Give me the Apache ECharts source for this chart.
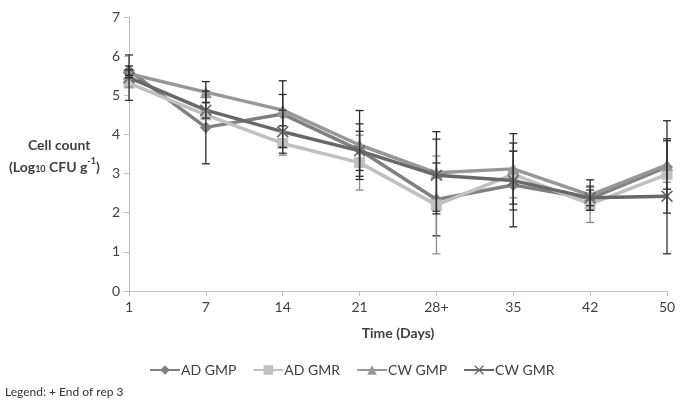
<!DOCTYPE html>
<html>
<head>
<meta charset="utf-8">
<script src="https://cdn.jsdelivr.net/npm/echarts@6/dist/echarts.min.js"></script>
<style>
html,body{margin:0;padding:0;background:#fff;}
#chart{width:686px;height:407px;}
</style>
</head>
<body>
<div id="chart"></div>
<script>
const categories = ['1', '7', '14', '21', '28+', '35', '42', '50'];
const yTicks = [0, 1, 2, 3, 4, 5, 6, 7];

const adGmp = [5.63, 4.18, 4.52, 3.60, 2.34, 2.71, 2.36, 3.17];
const adGmr = [5.31, 4.50, 3.77, 3.28, 2.20, 2.98, 2.22, 2.98];
const cwGmp = [5.55, 5.08, 4.62, 3.73, 3.02, 3.12, 2.45, 3.22];
const cwGmr = [5.45, 4.62, 4.07, 3.58, 2.96, 2.82, 2.38, 2.42];

const adGmpErr = [0.12, 0.93, 0.85, 0.67, 0.93, 1.07, 0.30, 1.18];
const adGmrErr = [0.10, 0.10, 0.30, 0.70, 1.25, 0.60, 0.47, 0.20];
const cwGmpErr = [0.10, 0.27, 0.40, 0.88, 1.05, 0.90, 0.39, 0.62];
const cwGmrErr = [0.58, 0.20, 0.55, 0.50, 0.92, 0.75, 0.20, 1.47];

const seriesNames = ['AD GMP', 'AD GMR', 'CW GMP', 'CW GMR'];
const seriesColors = ['#808080', '#c0c0c0', '#979797', '#686868'];
const errColors = ['#2a2a2a', '#8a8a8a', '#2a2a2a', '#333333'];
const xPath = 'path://M0,1L1,0L5,4L9,0L10,1L6,5L10,9L9,10L5,6L1,10L0,9L4,5Z';
const symbols = ['diamond', 'rect', 'triangle', xPath];
const symbolSizes = [12, 11, 12, 12];
const values = [adGmp, adGmr, cwGmp, cwGmr];
const errs = [adGmpErr, adGmrErr, cwGmpErr, cwGmrErr];

const font = 'Lato, "Open Sans", sans-serif';

const lineSeries = seriesNames.map((n, i) => ({
  name: n,
  type: 'line',
  data: values[i],
  symbol: symbols[i],
  symbolSize: symbolSizes[i],
  showAllSymbol: true,
  lineStyle: {color: seriesColors[i], width: 3.5},
  itemStyle: {color: seriesColors[i], borderWidth: 0},
  z: 2 + i
}));

const errSeries = seriesNames.map((n, i) => ({
  type: 'custom',
  name: n + ' err',
  z: 10,
  silent: true,
  data: values[i].map((v, k) => [k, v - errs[i][k], v + errs[i][k]]),
  renderItem: function (params, api) {
    const lo = api.coord([api.value(0), api.value(1)]);
    const hi = api.coord([api.value(0), api.value(2)]);
    const w = 4;
    const st = {stroke: errColors[i], lineWidth: 1.3};
    return {
      type: 'group',
      children: [
        {type: 'line', shape: {x1: lo[0], y1: lo[1], x2: hi[0], y2: hi[1]}, style: st},
        {type: 'line', shape: {x1: lo[0] - w, y1: lo[1], x2: lo[0] + w, y2: lo[1]}, style: st},
        {type: 'line', shape: {x1: hi[0] - w, y1: hi[1], x2: hi[0] + w, y2: hi[1]}, style: st}
      ]
    };
  }
}));

const chart = echarts.init(document.getElementById('chart'), null, {renderer: 'canvas'});
chart.setOption({
  backgroundColor: '#fff',
  animation: false,
  grid: {left: 129, right: 19, top: 17, bottom: 116},
  xAxis: {
    type: 'category',
    data: categories,
    boundaryGap: false,
    name: 'Time (Days)',
    nameLocation: 'middle',
    nameGap: 35,
    nameTextStyle: {fontFamily: font, fontSize: 14, fontWeight: 'bold', color: '#404040'},
    axisLine: {lineStyle: {color: '#bfbfbf', width: 1}},
    axisTick: {show: true, alignWithLabel: true, length: 5, inside: false, lineStyle: {color: '#bfbfbf'}},
    axisLabel: {fontFamily: font, fontSize: 14, color: '#404040', margin: 9},
    splitLine: {show: false}
  },
  yAxis: {
    type: 'value',
    min: yTicks[0],
    max: yTicks[yTicks.length - 1],
    interval: 1,
    axisLine: {show: true, lineStyle: {color: '#bfbfbf', width: 1}},
    axisTick: {show: true, length: 5, lineStyle: {color: '#bfbfbf'}},
    axisLabel: {fontFamily: font, fontSize: 14, color: '#404040', margin: 9},
    splitLine: {show: false}
  },
  legend: {
    data: seriesNames,
    bottom: 25,
    left: 144,
    itemWidth: 30,
    itemHeight: 12,
    itemGap: 16,
    textStyle: {fontFamily: font, fontSize: 14, color: '#404040', padding: [0, 0, 0, -4]}
  },
  graphic: [
    {
      type: 'text', left: 28, top: 138,
      style: {text: 'Cell count', font: 'bold 14px ' + font, fill: '#404040'}
    },
    {
      type: 'text', left: 9, top: 157,
      style: {
        text: '{n|(Log}{sub|10}{n| CFU g}{sup|-1}{n|)}',
        rich: {
          n: {font: 'bold 14px ' + font, fill: '#404040', verticalAlign: 'bottom'},
          sub: {font: 'bold 9px ' + font, fill: '#404040', padding: [6, 0, 0, 0], verticalAlign: 'bottom'},
          sup: {font: 'bold 9px ' + font, fill: '#404040', padding: [0, 0, 8, 0], verticalAlign: 'bottom'}
        }
      }
    },
    {
      type: 'text', left: 5, top: 386,
      style: {text: 'Legend: + End of rep 3', font: '12px ' + font, fill: '#333'}
    }
  ],
  series: lineSeries.concat(errSeries)
});
</script>
</body>
</html>
